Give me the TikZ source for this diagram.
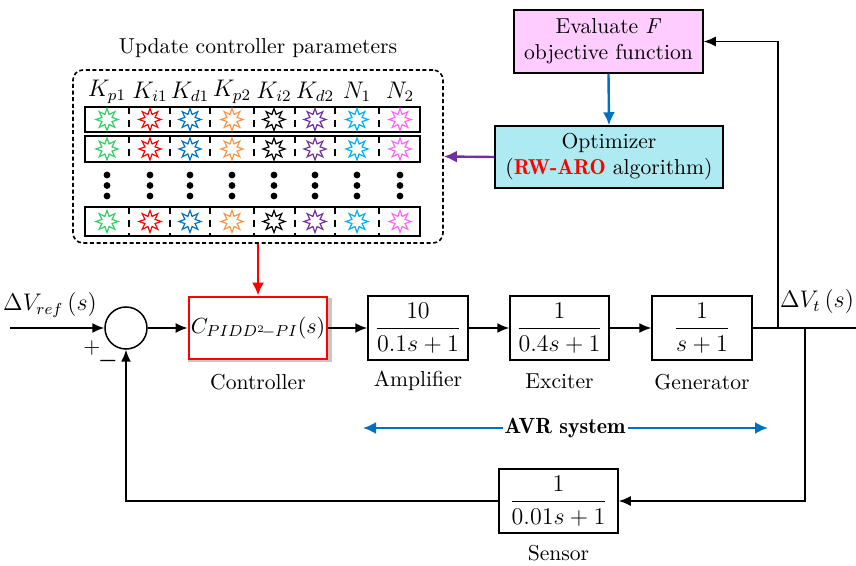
\documentclass[tikz,border=0pt]{standalone}
\usepackage{amsmath}
\usetikzlibrary{arrows.meta,shapes.geometric,shadows,calc}
\definecolor{pinkf}{HTML}{FFCCFF}
\definecolor{cyanf}{HTML}{AEEAF2}
\definecolor{blueA}{HTML}{0070C0}
\definecolor{purpA}{HTML}{7030A0}
\definecolor{sgreen}{HTML}{33CC66}
\definecolor{sred}{HTML}{FF0000}
\definecolor{sblue}{HTML}{0070C0}
\definecolor{sorange}{HTML}{F79646}
\definecolor{sblack}{HTML}{000000}
\definecolor{spurple}{HTML}{7030A0}
\definecolor{scyan}{HTML}{00B0F0}
\definecolor{smag}{HTML}{FF66FF}
\newcommand{\bnx}[1]{{\fontseries{b}\selectfont #1}}
\begin{document}
\begin{tikzpicture}[x=0.5pt,y=-0.5pt,font=\rmfamily\fontsize{10.8}{13}\selectfont,
  blk/.style={draw,line width=0.75pt,inner sep=0pt,minimum width=50pt,minimum height=32pt},
  arr/.style={-{Latex[length=6pt,width=5pt]},line width=0.75pt},
  carr/.style={-{Latex[length=6.5pt,width=6pt]},line width=1.2pt},
  lbl/.style={inner sep=0pt},
  starsym/.style={star,star points=8,star point ratio=2,minimum size=11pt,inner sep=0pt,line width=0.6pt},
  sep/.style={line width=0.6pt,dash pattern=on 3.5pt off 3pt},
  rowbox/.style={line width=0.8pt}]
\useasboundingbox (0,0) rectangle (856,566);

% top blocks
\node[blk,fill=pinkf,minimum width=94.5pt,minimum height=31.5pt,align=center] (eval) at (608.5,41.5)
  {Evaluate \textit{F}\\objective function};
\node[blk,fill=cyanf,minimum width=114pt,minimum height=31pt,align=center] (opt) at (609,157)
  {Optimizer\\(\textcolor{red}{\bnx{RW-ARO}} algorithm)};
\draw[carr,blueA] (eval.south) -- (opt.north);

% parameter table
\node[lbl] (title) at (258,48) {Update controller parameters};
\node[draw,rounded corners=5pt,line width=0.8pt,dash pattern=on 2pt off 1.3pt,
  minimum width=185pt,minimum height=86.5pt,inner sep=0pt] (tbl) at (258,156.5) {};
\foreach \x/\t [count=\i] in {107/{K_{p1}},150/{K_{i1}},190/{K_{d1}},232/{K_{p2}},274/{K_{i2}},315/{K_{d2}},357/{N_1},400/{N_2}}
  \node[lbl,font=\fontsize{12}{14}\selectfont] (h\i) at (\x,92) {$\t$};
\foreach \ya/\yb [count=\r] in {107/132,136/162,207/236}{
  \draw[rowbox] (85,\ya) rectangle (420,\yb);
  \foreach \sx in {129,170,210,254,295,335,379}
    \draw[sep] (\sx,\ya) -- (\sx,\yb);
  \foreach \x/\c [count=\i] in {107/sgreen,150/sred,190/sblue,232/sorange,274/sblack,315/spurple,357/scyan,400/smag}
    \node[starsym,draw=\c] (s\r\i) at (\x,{(\ya+\yb)/2}) {};
}
\foreach \x [count=\i] in {107,150,190,232,274,315,357,400}
  \foreach \y in {175,185.5,196}
    \fill (\x,\y) circle (1.7pt);
\draw[carr,purpA] (opt.west) -- (tbl.east);

% main loop
\node[draw,circle,line width=0.75pt,minimum size=21pt,inner sep=0pt] (sum) at (126,328) {};
\node[blk,draw=red,line width=1.4pt,minimum width=69pt,minimum height=31pt,fill=white,
  drop shadow={shadow xshift=1pt,shadow yshift=-1pt,opacity=0.45,fill=gray,shadow scale=1.04}] (ctrl) at (258,328)
  {\fontsize{11}{13}\selectfont$C_{PIDD^{2}\!-PI}(s)$};
\draw[carr,red] (tbl.south) -- (ctrl.north);
\node[blk] (amp) at (418,328) {\fontsize{11.5}{14}\selectfont$\dfrac{10}{0.1s+1}$};
\node[blk,minimum width=49.5pt] (exc) at (559.5,328) {\fontsize{11.5}{14}\selectfont$\dfrac{1}{0.4s+1}$};
\node[blk] (gen) at (702,328) {\fontsize{11.5}{14}\selectfont$\dfrac{1}{s+1}$};
\node[blk,minimum width=59.5pt] (sen) at (558.5,501) {\fontsize{11.5}{14}\selectfont$\dfrac{1}{0.01s+1}$};

\node[lbl] (lc) at (258,382) {Controller};
\node[lbl] (la) at (418,381) {Amplifier};
\node[lbl] (le) at (559.5,381) {Exciter};
\node[lbl] (lg) at (702,382) {Generator};
\node[lbl] (ls) at (558.5,553) {Sensor};

\coordinate (in) at (10,328);
\coordinate (bu) at (778,328);
\coordinate (bd) at (805,328);
\coordinate (out) at (869,328);
\coordinate (fbc) at (126,501);

\draw[arr] (in) -- (sum.west);
\draw[arr] (sum.east) -- (ctrl.west);
\draw[arr] (ctrl.east) -- (amp.west);
\draw[arr] (amp.east) -- (exc.west);
\draw[arr] (exc.east) -- (gen.west);
\draw[arr] (gen.east) -- (out);
\draw[arr] (bu) -- (bu |- eval.east) -- (eval.east);
\draw[arr] (bd) |- (sen.east);
\draw[arr] (sen.west) -- (fbc) -- (sum.south);

\node[lbl,font=\fontsize{12}{14}\selectfont] (vref) at (50,305) {$\Delta V_{ref}\,(s)$};
\node[lbl,font=\fontsize{12}{14}\selectfont] (vt) at (817,302) {$\Delta V_{t}\,(s)$};
\node[lbl] (plus) at (92,348) {$+$};
\node[lbl] (minus) at (108,361) {$\boldsymbol{-}$};

% AVR system
\coordinate (avrL) at (363,428);
\coordinate (avrR) at (768,428);
\draw[{Latex[length=6.5pt,width=6pt]}-{Latex[length=6.5pt,width=6pt]},line width=1.2pt,blueA] (avrL) -- (avrR);
\node[fill=white,inner sep=1pt,font=\rmfamily\fontsize{11}{13}\fontseries{b}\selectfont] (avr) at (565,428) {AVR system};
\end{tikzpicture}
\end{document}
